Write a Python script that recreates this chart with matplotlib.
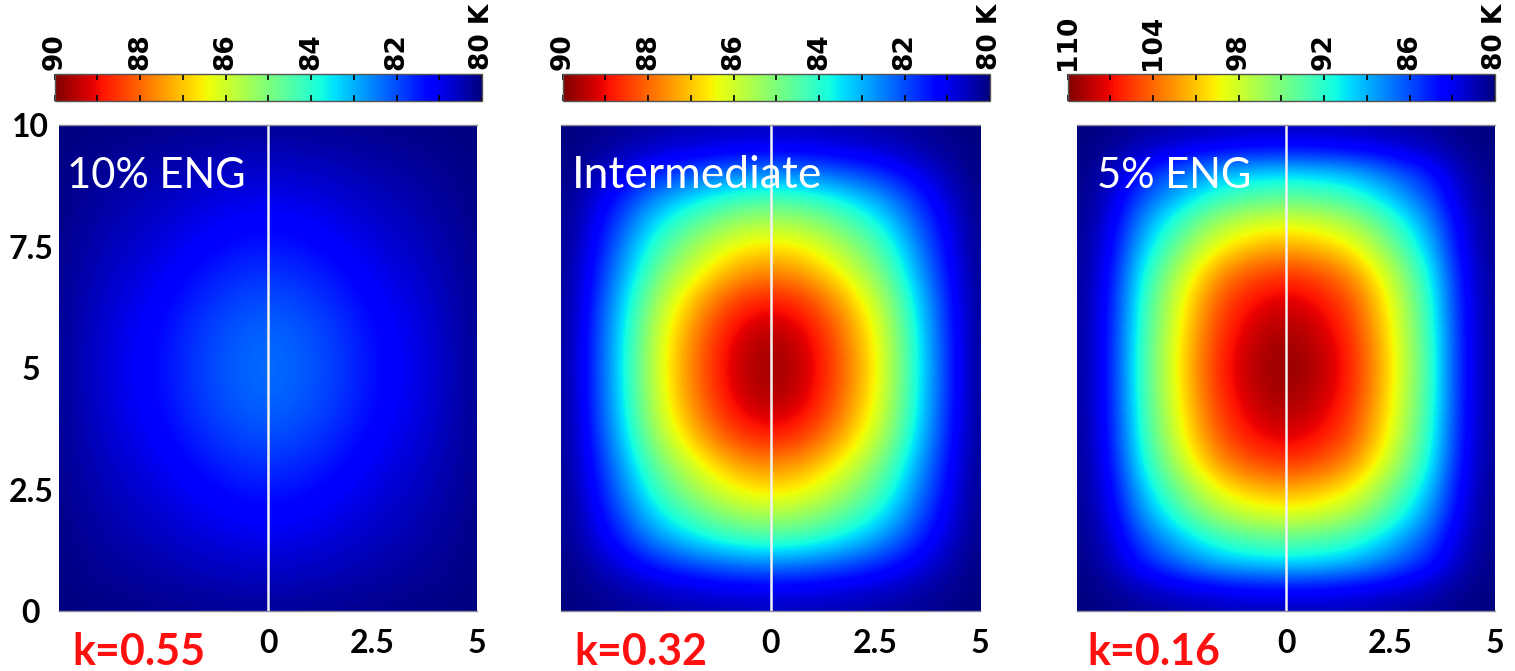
import numpy as np
import matplotlib
matplotlib.use("Agg")
import matplotlib.pyplot as plt
from matplotlib.ticker import FixedLocator

# Sample positions of the temperature profiles (x: lateral, y: depth)
x_pos = [-5.0, -4.5, -4.0, -3.5, -3.0, -2.5, -2.0, -1.5, -1.0, -0.5, 0.0,
         0.5, 1.0, 1.5, 2.0, 2.5, 3.0, 3.5, 4.0, 4.5, 5.0]
y_pos = [0.0, 0.5, 1.0, 1.5, 2.0, 2.5, 3.0, 3.5, 4.0, 4.5, 5.0,
         5.5, 6.0, 6.5, 7.0, 7.5, 8.0, 8.5, 9.0, 9.5, 10.0]

# Temperature (K) along x at mid height, and along y at x = 0
eng10_tx = [80.2, 80.45, 80.7, 80.95, 81.15, 81.4, 81.65, 81.9, 82.1, 82.25, 82.3,
            82.25, 82.1, 81.9, 81.65, 81.4, 81.15, 80.95, 80.7, 80.45, 80.2]
eng10_ty = [80.2, 80.45, 80.7, 80.95, 81.2, 81.45, 81.7, 81.95, 82.15, 82.27, 82.3,
            82.27, 82.15, 81.95, 81.7, 81.45, 81.2, 80.95, 80.7, 80.45, 80.2]

inter_tx = [80.2, 81.0, 82.3, 83.7, 85.2, 86.5, 87.5, 88.4, 89.1, 89.55, 89.7,
            89.55, 89.1, 88.4, 87.5, 86.5, 85.2, 83.7, 82.3, 81.0, 80.2]
inter_ty = [80.5, 81.1, 82.6, 84.3, 85.6, 86.7, 87.6, 88.6, 89.25, 89.6, 89.7,
            89.6, 89.25, 88.6, 87.6, 86.7, 85.6, 84.3, 82.6, 81.1, 80.5]

eng5_tx = [80.7, 82.5, 86.5, 92.0, 96.3, 100.2, 103.6, 106.4, 108.0, 109.0, 109.4,
           109.0, 108.0, 106.4, 103.6, 100.2, 96.3, 92.0, 86.5, 82.5, 80.7]
eng5_ty = [81.5, 84.0, 90.3, 94.0, 98.6, 101.8, 105.2, 107.3, 108.4, 109.1, 109.4,
           109.1, 108.4, 107.3, 105.2, 101.8, 98.6, 94.0, 90.3, 84.0, 81.5]

panel_names = ["10% ENG", "Intermediate", "5% ENG"]
k_labels = ["k=0.55", "k=0.32", "k=0.16"]
t_ranges = [(80, 90), (80, 90), (80, 110)]
cbar_major = [[90, 88, 86, 84, 82, 80], [90, 88, 86, 84, 82, 80],
              [110, 104, 98, 92, 86, 80]]
cbar_step = [1, 1, 3]
x_ticks = [0, 2.5, 5]
x_tick_labels = ["0", "2.5", "5"]
y_ticks = [0, 2.5, 5, 7.5, 10]
y_tick_labels = ["0", "2.5", "5", "7.5", "10"]
profiles = [(eng10_tx, eng10_ty), (inter_tx, inter_ty), (eng5_tx, eng5_ty)]

W, H = 1515, 671
fig = plt.figure(figsize=(W / 100, H / 100), dpi=100)

def fx(px):
    return px / W

def fy(py):
    return 1 - py / H

ax_left = [59, 561, 1077]
ax_right = [477, 980, 1495]
cb_left = [54.5, 562.7, 1067.7]
cb_right = [482, 990, 1495]
ax_top, ax_bot = 125, 611
cb_top, cb_bot = 74, 101

title_x = [0.019, 0.026, 0.047]
title_size = [30, 32, 30]
k_x = [0.033, 0.033, 0.026]

label_font = "Lato"
half = 0.25  # half spacing of the profile samples

for i in range(3):
    ax = fig.add_axes([fx(ax_left[i]), fy(ax_bot), fx(ax_right[i] - ax_left[i]),
                       (ax_bot - ax_top) / H])
    tx, ty = profiles[i]
    vmin, vmax = t_ranges[i]
    tx_a = np.array(tx)
    ty_a = np.array(ty)
    tpk = tx_a.max()
    field = vmin + np.outer(ty_a - vmin, tx_a - vmin) / (tpk - vmin)
    img = ax.imshow(field, origin="lower", cmap="jet", vmin=vmin, vmax=vmax,
                    extent=[x_pos[0] - half, x_pos[-1] + half,
                            y_pos[0] - half, y_pos[-1] + half],
                    aspect="auto", interpolation="bicubic")
    ax.set_xlim(-5, 5)
    ax.set_ylim(0, 10)
    ax.axvline(0, color="#f2f2f2", lw=1.8)

    for s in ["left", "right"]:
        ax.spines[s].set_visible(False)
    for s in ["top", "bottom"]:
        ax.spines[s].set_color("#8a8a9a")
        ax.spines[s].set_linewidth(1.0)

    ax.set_xticks(x_ticks)
    ax.set_xticklabels(x_tick_labels, fontfamily=label_font,
                       fontweight="bold", fontsize=23)
    ax.tick_params(axis="x", length=0, pad=13)
    if i == 0:
        ax.set_yticks(y_ticks)
        ax.set_yticklabels(y_tick_labels, fontfamily=label_font,
                           fontweight="bold", fontsize=23)
        ax.tick_params(axis="y", length=0, pad=8)
        for lab in ax.get_yticklabels():
            lab.set_horizontalalignment("center")
            lab.set_x(-0.041)
    else:
        ax.set_yticks([])

    ax.text(title_x[i], 0.87, panel_names[i], transform=ax.transAxes,
            color="white", fontsize=title_size[i], family=label_font,
            va="baseline", ha="left")
    ax.text(k_x[i], -0.111, k_labels[i], transform=ax.transAxes,
            color="#ff1010", fontsize=31, family=label_font,
            fontweight="bold", va="baseline", ha="left")

    # Horizontal colour bar above each panel, hottest value on the left
    cax = fig.add_axes([fx(cb_left[i]), fy(cb_bot), fx(cb_right[i] - cb_left[i]),
                        (cb_bot - cb_top) / H])
    cb = fig.colorbar(img, cax=cax, orientation="horizontal")
    cax.invert_xaxis()
    cb.outline.set_edgecolor("#555555")
    cb.outline.set_linewidth(1.0)
    cax.xaxis.set_ticks_position("both")
    major = cbar_major[i]
    cax.xaxis.set_major_locator(FixedLocator(major))
    cax.xaxis.set_minor_locator(FixedLocator(
        np.arange(vmin, vmax + 0.01, cbar_step[i])))
    cax.tick_params(axis="x", which="both", direction="in", length=4,
                    width=1.2, color="black", top=True, bottom=True,
                    labeltop=False, labelbottom=False)
    labels = [str(v) for v in major]
    labels[-1] = labels[-1] + " K"
    for v, lab in zip(major, labels):
        cax.annotate(lab, xy=(v, 1.0), xycoords=("data", "axes fraction"),
                     xytext=(0, 3), textcoords="offset points",
                     rotation=90, ha="center", va="bottom",
                     fontsize=19, fontweight="bold", family="DejaVu Sans",
                     annotation_clip=False)

fig.savefig("out.png", dpi=100)
